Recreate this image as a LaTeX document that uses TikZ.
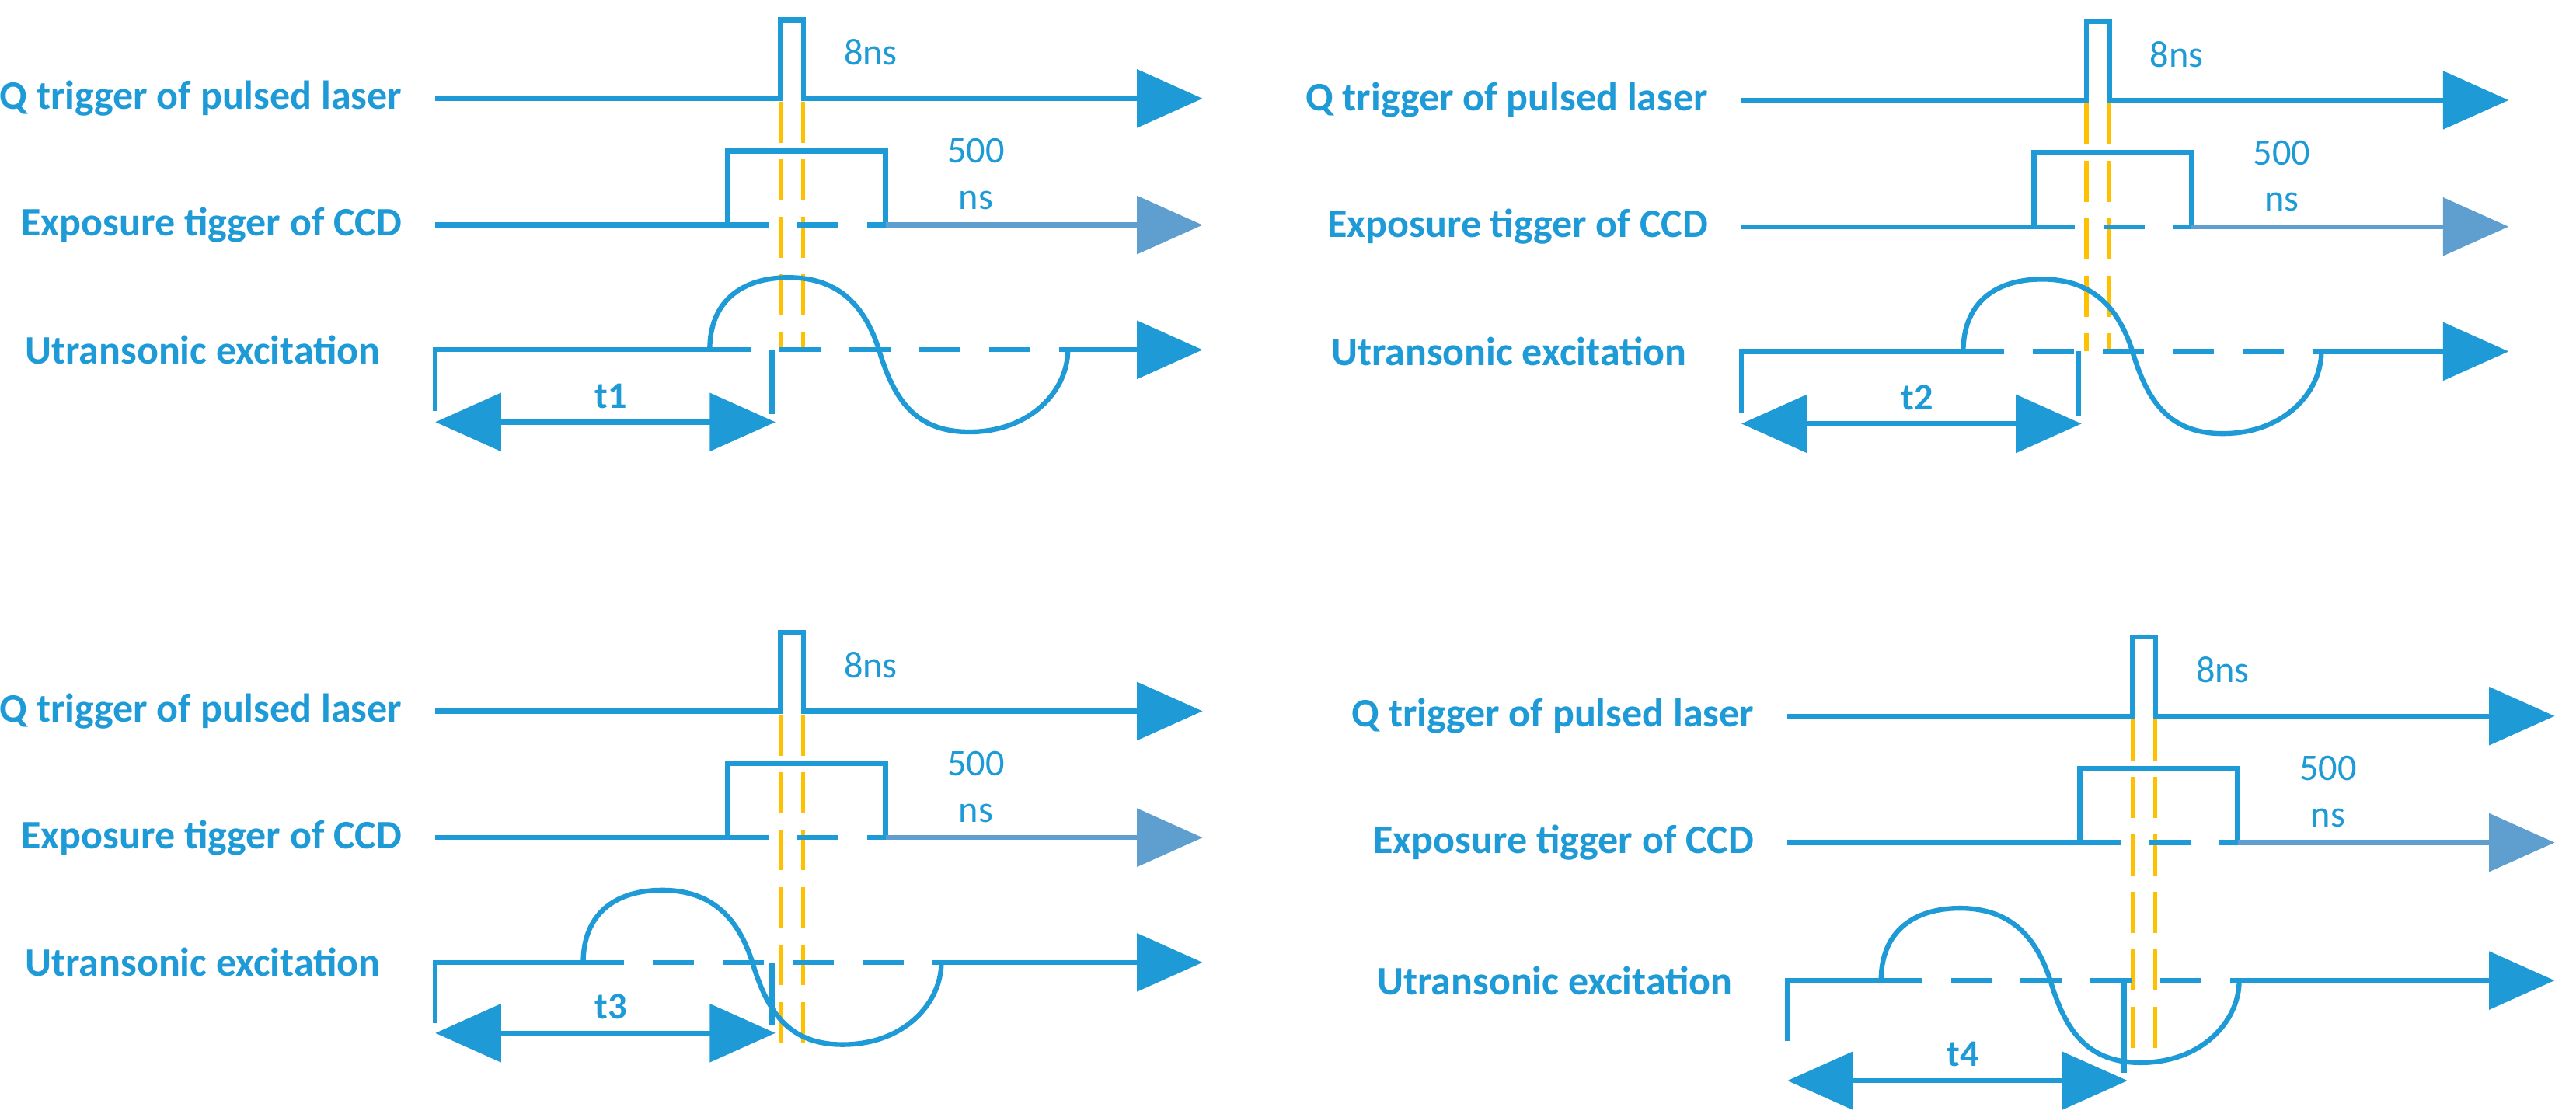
\documentclass[tikz,border=0pt]{standalone}
\usepackage{fontspec}
\setmainfont{Carlito}
\usetikzlibrary{arrows.meta}
\definecolor{bl}{HTML}{1E9BD7}
\definecolor{lb}{HTML}{5E9FD0}
\definecolor{og}{HTML}{FFC000}
\tikzset{
  sig/.style={draw=bl,line width=0.06cm},
  ax/.style={sig,-{Triangle[length=0.8cm,width=0.7cm]}},
  dax/.style={sig,{Triangle[length=0.8cm,width=0.7cm]}-{Triangle[length=0.8cm,width=0.7cm]}},
  dsh/.style={sig,dash pattern=on 0.5cm off 0.35cm},
  orl/.style={draw=og,line width=0.05cm,dash pattern=on 0.5cm off 0.2cm},
  lab/.style={text=bl,font=\fontsize{14}{16}\selectfont\bfseries,anchor=east,inner sep=0},
  val/.style={text=bl,font=\fontsize{13}{15}\selectfont,inner sep=0},
}
% #1 ox, #2 oy, #3 wave start, #4 ultrasonic y, #5 time arrow y, #6 label, #7 tick bottom
\newcommand\drawpanel[7]{%
\begin{scope}[shift={(#1,#2)}]
  \node[lab] (q#6) at (245,60) {Q trigger of pulsed laser};
  \node[lab] (e#6) at (245,137) {Exposure tigger of CCD};
  \node[lab] (u#6) at (232,#4) {Utransonic excitation};
  \node[val] (n8#6) at (530,32) {8ns};
  \node[val] (n5#6) at (594,92) {500};
  \node[val] (ns#6) at (594,122) {ns};
  \node[val,font=\fontsize{13}{15}\selectfont\bfseries] (t#6) at (372,#5-16) {#6};
  % orange markers
  \draw[orl] (475,62) -- (475,#7);
  \draw[orl] (489,62) -- (489,#7);
  % Q trigger
  \coordinate (qa#6) at (265,60);
  \coordinate (qb#6) at (732,60);
  \draw[sig] (qa#6) -- (475,60) -- (475,12) -- (489,12) -- (489,60) -- (690,60);
  \draw[ax] (690,60) -- (qb#6);
  % exposure
  \coordinate (ea#6) at (265,137);
  \coordinate (eb#6) at (732,137);
  \draw[sig] (ea#6) -- (443,137) -- (443,92) -- (539,92) -- (539,137);
  \draw[dsh] (443,137) -- (539,137);
  \draw[draw=lb,line width=0.06cm,-{Triangle[length=0.8cm,width=0.7cm]}] (539,137) -- (eb#6);
  % ultrasonic
  \coordinate (ua#6) at (265,#4);
  \coordinate (ub#6) at (732,#4);
  \draw[sig] (265,#4+37) -- (ua#6) -- (#3,#4);
  \draw[dsh] (#3,#4) -- (#3+218,#4);
  \draw[ax] (#3+218,#4) -- (ub#6);
  \draw[sig] (#3,#4) .. controls (#3,#4-30) and (#3+20,#4-44) .. (#3+48,#4-44)
     .. controls (#3+80,#4-44) and (#3+95,#4-25) .. (#3+103,#4)
     .. controls (#3+112,#4+30) and (#3+125,#4+50) .. (#3+158,#4+50)
     .. controls (#3+195,#4+50) and (#3+218,#4+25) .. (#3+218,#4);
  % time arrow
  \draw[sig] (470,#4) -- (470,#5-5);
  \coordinate (ta#6) at (265,#5);
  \coordinate (tb#6) at (472,#5);
  \draw[dax] (ta#6) -- (tb#6);
\end{scope}}
\begin{document}
\begin{tikzpicture}[x=0.02cm,y=-0.02cm]
\useasboundingbox (0,0) rectangle (1568,678);
\drawpanel{0}{0}{432}{213}{257}{t1}{213}
\drawpanel{795}{1}{400}{213}{257}{t2}{213}
\drawpanel{0}{373}{355}{213}{256}{t3}{262}
\drawpanel{823}{376}{322}{221}{282}{t4}{269}
\end{tikzpicture}
\end{document}
